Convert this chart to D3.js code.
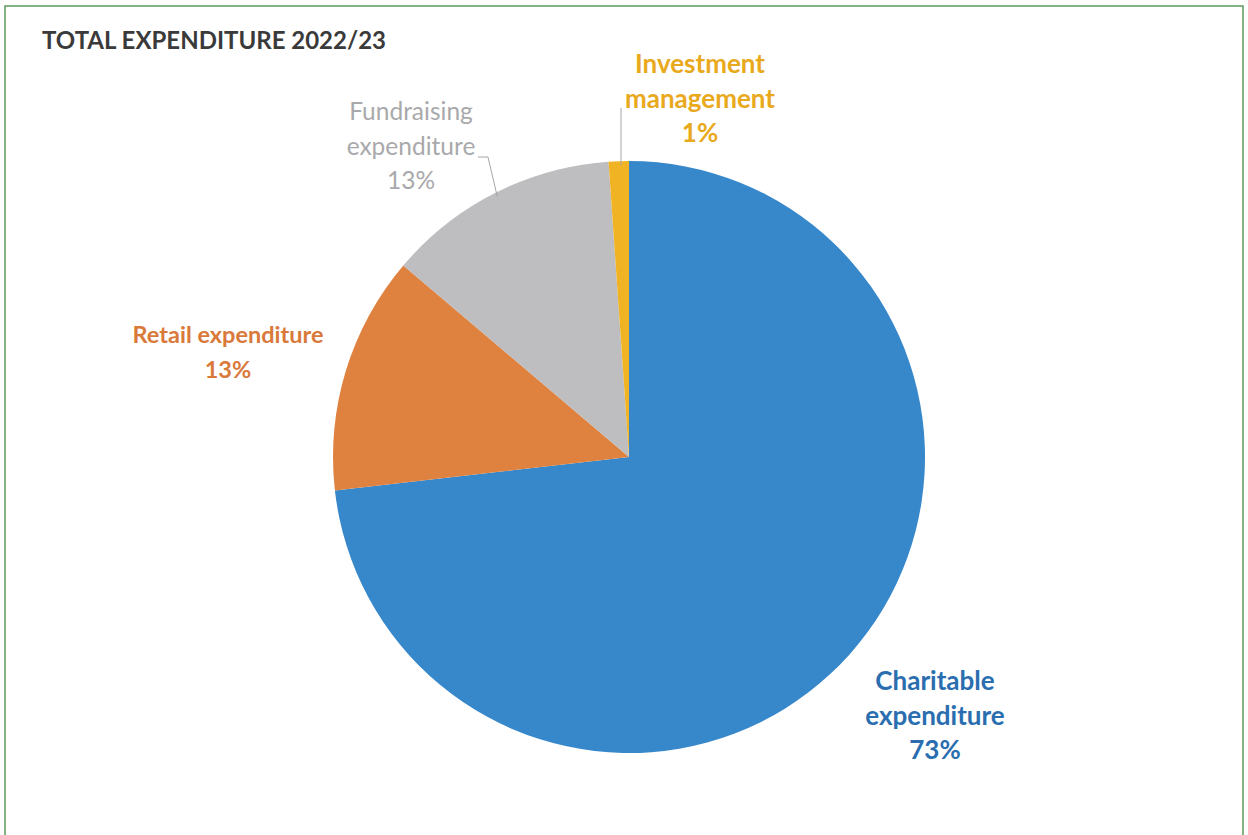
<!DOCTYPE html>
<html>
<head>
<meta charset="utf-8">
<script src="https://cdn.jsdelivr.net/npm/d3@7"></script>
<style>
	body { margin: 0; background: #fff; }
	svg text { font-family: Lato, "Open Sans", sans-serif; }
</style>
</head>
<body>
<div id="chart"></div>
<script>
// Expenditure shares (percent)
const categories = ["Charitable expenditure", "Retail expenditure", "Fundraising expenditure", "Investment management"];
const shares = [73.2, 13.0, 12.7, 1.1];
const labelLines = [
	["Charitable", "expenditure"],
	["Retail expenditure"],
	["Fundraising", "expenditure"],
	["Investment", "management"]
];
const title = "TOTAL EXPENDITURE 2022/23";

const width = 1248, height = 835;
const cx = 629, cy = 457, radius = 296;

const sliceColors = ["#3787cb", "#e0823f", "#bebdc0", "#f0b323"];
const labelColors = ["#2a6eb0", "#d9793a", "#a9a9ab", "#e9a91c"];
const labelWeights = [700, 700, 400, 700];
const labelSizes = [26, 23.5, 24.5, 26];
// label anchor (centre x, first baseline y) per slice
const labelPos = [[935, 690], [228, 343], [411, 120], [700, 73]];
const lineGap = 34.5;

const svg = d3.select("#chart")
	.append("svg")
	.attr("width", width)
	.attr("height", height)
	.attr("viewBox", [0, 0, width, height]);

// green frame
svg.append("rect")
	.attr("x", 5)
	.attr("y", 6)
	.attr("width", 1238)
	.attr("height", 840)
	.attr("fill", "none")
	.attr("stroke", "#5a9a5a")
	.attr("stroke-width", 1.5);

svg.append("text")
	.attr("x", 42)
	.attr("y", 49)
	.attr("font-size", 24)
	.attr("font-weight", 700)
	.attr("fill", "#3a3a3a")
	.text(title);

const data = categories.map((c, i) => ({ name: c, value: shares[i], i: i }));

const pie = d3.pie()
	.sort(null)
	.value(d => d.value);

const arc = d3.arc()
	.innerRadius(0)
	.outerRadius(radius);

const edge = d3.arc()
	.innerRadius(radius - 4)
	.outerRadius(radius - 4);

const arcs = pie(data);

const g = svg.append("g")
	.attr("transform", `translate(${cx},${cy})`);

g.selectAll("path")
	.data(arcs)
	.join("path")
	.attr("d", arc)
	.attr("fill", d => sliceColors[d.data.i]);

// leader lines for the two small top slices
const leaders = [
	{ i: 2, from: [478, 157], bend: [488, 157] },
	{ i: 3, from: [621, 108], bend: null }
];
leaders.forEach(l => {
	const [ex, ey] = edge.centroid(arcs[l.i]);
	const pts = [l.from];
	if (l.bend) pts.push(l.bend);
	pts.push([l.i === 3 ? l.from[0] : ex + cx, ey + cy]);
	svg.append("path")
		.attr("d", d3.line()(pts))
		.attr("fill", "none")
		.attr("stroke", "#a6a6a6")
		.attr("stroke-width", 1);
});

const labels = svg.append("g")
	.selectAll("text")
	.data(arcs)
	.join("text")
	.attr("text-anchor", "middle")
	.attr("font-size", d => labelSizes[d.data.i])
	.attr("font-weight", d => labelWeights[d.data.i])
	.attr("fill", d => labelColors[d.data.i]);

labels.each(function(d) {
	const t = d3.select(this);
	const [x, y] = labelPos[d.data.i];
	const lines = labelLines[d.data.i].concat([Math.round(d.data.value) + "%"]);
	lines.forEach((s, k) => {
		t.append("tspan")
			.attr("x", x)
			.attr("y", y + k * lineGap)
			.text(s);
	});
});
</script>
</body>
</html>
